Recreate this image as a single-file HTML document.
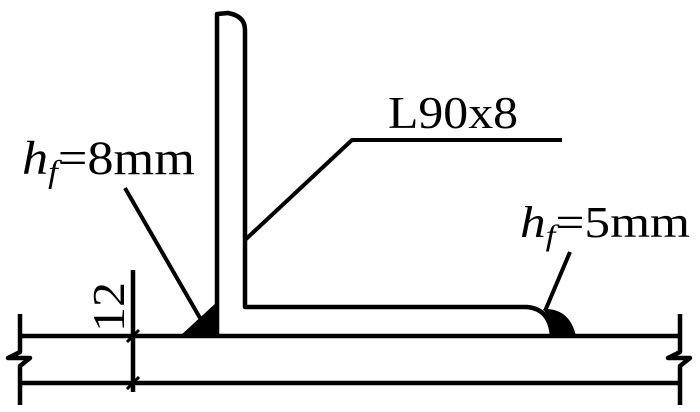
<!DOCTYPE html>
<html><head><style>
html,body{margin:0;padding:0;background:#fff;}
svg{display:block;}
text{font-family:"Liberation Serif",serif;fill:#000;}
</style></head><body>
<svg width="700" height="412" viewBox="0 0 700 412" xmlns="http://www.w3.org/2000/svg">
<g fill="none" stroke="#000" stroke-width="4.5" stroke-linejoin="round">
<path d="M217,336 L217,14 L228,13 Q245,16 245,30 L245,307 L527,307 Q550,309 552,336"/>
<line x1="20" y1="336" x2="680" y2="336"/>
<line x1="20" y1="383" x2="680" y2="383"/>
<path d="M20,314 L20,352 L8,358 L30,358 L20,366 L20,405"/>
<path d="M680,314 L680,352 L668,358 L690,358 L680,366 L680,405"/>
<line x1="133" y1="270" x2="133" y2="392"/>
<line x1="127" y1="342" x2="139" y2="330" stroke-width="3"/>
<line x1="127" y1="389" x2="139" y2="377" stroke-width="3"/>
<line x1="125" y1="188" x2="200" y2="318" stroke-width="4"/>
<polyline points="245,240 352,140 562,140" stroke-width="4"/>
<line x1="570" y1="252" x2="545" y2="311" stroke-width="4"/>
</g>
<polygon points="180,336 217,336 217,302" fill="#000"/>
<path d="M547,309 Q570,310 576,336 L552,336 Q550,318 543,309 Z" fill="#000"/>
<text x="388" y="128" font-size="46" textLength="130" lengthAdjust="spacingAndGlyphs">L90x8</text>
<text x="22" y="174" font-size="48" textLength="173" lengthAdjust="spacingAndGlyphs"><tspan font-style="italic">h</tspan><tspan font-style="italic" font-size="32" dy="8">f</tspan><tspan dy="-8">=8mm</tspan></text>
<text x="520" y="237" font-size="44" textLength="170" lengthAdjust="spacingAndGlyphs"><tspan font-style="italic">h</tspan><tspan font-style="italic" font-size="30" dy="8">f</tspan><tspan dy="-8">=5mm</tspan></text>
<text transform="translate(124,332) rotate(-90)" font-size="46" textLength="50" lengthAdjust="spacingAndGlyphs">12</text>
</svg>
</body></html>
